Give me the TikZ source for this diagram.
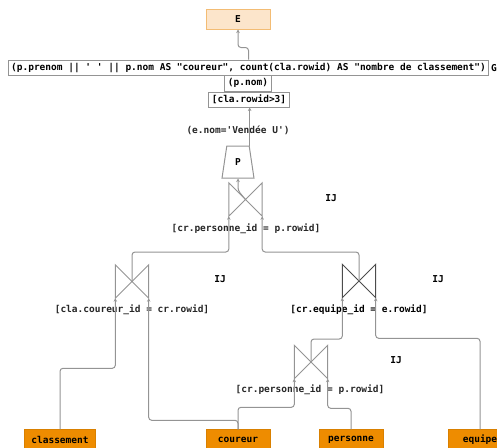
\documentclass[tikz,border=0pt]{standalone}
\usepackage{fontspec}
\setmonofont{DejaVu Sans Mono}
\usetikzlibrary{arrows.meta,shapes.geometric}

\definecolor{edgegray}{HTML}{949494}
\definecolor{resfill}{HTML}{FCE5CB}
\definecolor{resdraw}{HTML}{F3BC74}
\definecolor{tblfill}{HTML}{EE8C00}
\definecolor{tbldraw}{HTML}{D98000}

\tikzset{
  every node/.style={font=\ttfamily\bfseries\fontsize{9.5}{11}\selectfont},
  edge/.style={draw=edgegray,line width=1pt,rounded corners=3pt,
               -{Stealth[length=3.5pt,width=3.5pt]}},
  relbox/.style={draw=edgegray,line width=1pt,fill=white,
                 inner xsep=3pt,inner ysep=0pt,minimum height=15pt},
  tblbox/.style={draw=tbldraw,fill=tblfill,minimum width=64pt,
                 minimum height=20pt,inner xsep=7pt},
  ij/.style={minimum width=33pt,minimum height=33pt,inner sep=0pt},
  cond/.style={inner sep=0pt,text=black!85},
}
% the bowtie of a join, drawn over an empty node
\newcommand\ijshape[2][edgegray]{%
  \draw[#1,line width=1pt] (#2.north west) -- (#2.south west)
    -- (#2.north east) -- (#2.south east) -- cycle;}

\begin{document}
\begin{tikzpicture}[x=1pt,y=-1pt]
    \useasboundingbox (0,0) rectangle (497,447);

    % result and projection
    \node[draw=resdraw,line width=1pt,fill=resfill,minimum width=64pt,minimum height=20pt] (e) at (238,19) {E};
    \node[relbox] (proj) at (248.5,67.5) {(p.prenom || ' ' || p.nom AS "coureur", count(cla.rowid) AS "nombre de classement")};
    \node[anchor=west,inner sep=0pt] (g) at (491,68) {G};
    \node[relbox,minimum height=16pt] (grp) at (248,83) {(p.nom)};
    \node[relbox] (hav) at (249,99.5) {[cla.rowid>3]};

    % selection
    \node[cond] (sel) at (238,130) {(e.nom='Vendée U')};
    \node[trapezium,trapezium angle=79,trapezium stretches=true,draw=edgegray,
          line width=1pt,minimum width=32pt,minimum height=32pt] (p) at (238,162) {P};

    % joins
    \node[ij] (j1) at (245.5,199.5) {};
    \node[ij] (j2) at (132,281.5) {};
    \node[ij] (j3) at (359,281) {};
    \node[ij] (j4) at (311,362) {};
    \ijshape{j1}
    \ijshape{j2}
    \ijshape[black!70]{j3}
    \ijshape{j4}

    \node (ij1) at (331,198) {IJ};
    \node (ij2) at (220,279) {IJ};
    \node (ij3) at (438,279) {IJ};
    \node (ij4) at (396,360) {IJ};
    \node[cond] (c1) at (246,229) {[cr.personne\_id = p.rowid]};
    \node[cond] (c2) at (132,310) {[cla.coureur\_id = cr.rowid]};
    \node[cond,text=black] (c3) at (359,310) {[cr.equipe\_id = e.rowid]};
    \node[cond] (c4) at (310,390) {[cr.personne\_id = p.rowid]};

    % tables
    \node[tblbox] (cla) at (60,439.5) {classement};
    \node[tblbox] (cou) at (238,439.5) {coureur};
    \node[tblbox] (per) at (351,439.5) {personne};
    \node[tblbox] (equ) at (480,439.5) {equipe};

    % data flow, bottom up
    \draw[edge] (cla.north) -- ++(0,-61) -| (j2.south west);
    \draw[edge] (cou.north) -- ++(0,-9) -| (j2.south east);
    \draw[edge] (cou.north) -- ++(0,-22) -| (j4.south west);
    \draw[edge] (per.north) -- ++(0,-21) -| (j4.south east);
    \draw[edge] (j4.center) -- ++(0,-23) -| (j3.south west);
    \draw[edge] (equ.north) -- ++(0,-91) -| (j3.south east);
    \draw[edge] (j2.center) -- ++(0,-29.5) -| (j1.south west);
    \draw[edge] (j3.center) -- ++(0,-29) -| (j1.south east);
    \draw[edge] (j1.center) -- ++(-7.5,-9) -- (p.south);
    \draw[edge] (p.top right corner) -- (p.top right corner |- hav.south);
    \draw[edge] (proj.north) -- ++(0,-12) -| (e.south);
\end{tikzpicture}
\end{document}
